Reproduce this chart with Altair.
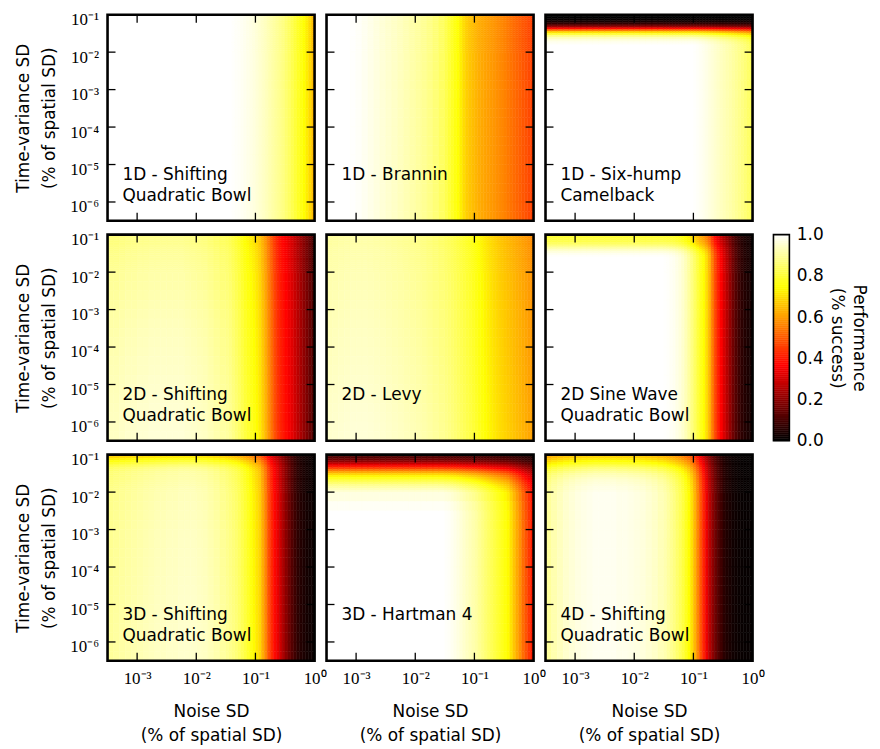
import altair as alt
import pandas as pd

alt.data_transformers.disable_max_rows()

# ---------------- values ----------------
PANEL_LABELS = [
    ["1D - Shifting", "Quadratic Bowl"],
    ["1D - Brannin"],
    ["1D - Six-hump", "Camelback"],
    ["2D - Shifting", "Quadratic Bowl"],
    ["2D - Levy"],
    ["2D Sine Wave", "Quadratic Bowl"],
    ["3D - Shifting", "Quadratic Bowl"],
    ["3D - Hartman 4"],
    ["4D - Shifting", "Quadratic Bowl"],
]

X_TICKS = [1e-3, 1e-2, 1e-1, 1.0]
Y_TICKS = [1e-6, 1e-5, 1e-4, 1e-3, 1e-2, 1e-1]
X_INNER_TICKS = [1e-3, 1e-2, 1e-1]
Y_INNER_TICKS = [1e-6, 1e-5, 1e-4, 1e-3, 1e-2]
CB_TICKS = [0.0, 0.2, 0.4, 0.6, 0.8, 1.0]

# grid of cells (log10 of noise SD / time-variance SD)
X_EDGES_LOG = [round(-3.5 + 0.1 * i, 3) for i in range(20)] + \
              [round(-1.5 + 0.05 * i, 3) for i in range(31)]
Y_EDGES_LOG = [round(-1.0 - 0.05 * i, 3) for i in range(21)] + \
              [round(-2.0 - 0.25 * i, 3) for i in range(1, 19)]

# performance along the noise axis:
#   LEFT  = 20 columns, centres -3.45 ... -1.55 (0.1 decade)
#   RIGHT = 30 columns, centres -1.475 ... -0.025 (0.05 decade)
NOISE_LEFT = [
    [1.0] * 20,
    [1, 1, 1, 1, 0.998, 0.993, 0.985, 0.977, 0.968, 0.96, 0.952, 0.944, 0.935, 0.925, 0.915,
     0.905, 0.893, 0.88, 0.865, 0.845],
    [1.0] * 20,
    [0.94, 0.94, 0.945, 0.95, 0.95, 0.955, 0.955, 0.96, 0.96, 0.96, 0.96, 0.96, 0.96, 0.955, 0.95,
     0.945, 0.94, 0.93, 0.92, 0.91],
    [0.95, 0.952, 0.955, 0.957, 0.96, 0.96, 0.96, 0.958, 0.955, 0.952, 0.948, 0.944, 0.94, 0.935,
     0.93, 0.925, 0.918, 0.91, 0.902, 0.893],
    [1.0] * 20,
    [0.90, 0.905, 0.91, 0.915, 0.92, 0.925, 0.93, 0.935, 0.94, 0.94, 0.945, 0.945, 0.95, 0.95, 0.95,
     0.945, 0.94, 0.93, 0.92, 0.905],
    [1.0] * 20,
    [0.90, 0.92, 0.935, 0.95, 0.96, 0.97, 0.975, 0.98, 0.985, 0.985, 0.985, 0.985, 0.98, 0.98, 0.975,
     0.97, 0.965, 0.955, 0.945, 0.93],
]
NOISE_RIGHT = [
    [1, 1, 0.997, 0.994, 0.992, 0.988, 0.983, 0.978, 0.973, 0.967, 0.96, 0.952, 0.944, 0.935, 0.925,
     0.915, 0.905, 0.895, 0.885, 0.875, 0.86, 0.845, 0.825, 0.805, 0.785, 0.765, 0.745, 0.72, 0.69, 0.65],
    [0.825, 0.805, 0.785, 0.765, 0.75, 0.72, 0.695, 0.675, 0.66, 0.65, 0.638, 0.627, 0.618, 0.611,
     0.604, 0.597, 0.59, 0.582, 0.574, 0.566, 0.557, 0.547, 0.537, 0.527, 0.517, 0.507, 0.497, 0.487,
     0.475, 0.46],
    [1.0] * 10 + [0.997, 0.993, 0.988, 0.982, 0.975, 0.967, 0.96, 0.952, 0.945, 0.937, 0.93, 0.922,
                  0.914, 0.905, 0.895, 0.885, 0.875, 0.865, 0.852, 0.835],
    [0.905, 0.895, 0.88, 0.865, 0.85, 0.83, 0.81, 0.795, 0.78, 0.765, 0.745, 0.72, 0.68, 0.64, 0.59,
     0.54, 0.49, 0.45, 0.42, 0.40, 0.38, 0.355, 0.33, 0.30, 0.27, 0.24, 0.21, 0.18, 0.15, 0.12],
    [0.885, 0.878, 0.87, 0.862, 0.853, 0.844, 0.835, 0.826, 0.816, 0.805, 0.792, 0.778, 0.765, 0.752,
     0.74, 0.728, 0.718, 0.708, 0.698, 0.69, 0.682, 0.674, 0.666, 0.658, 0.65, 0.642, 0.634, 0.626,
     0.616, 0.605],
    [0.998, 0.995, 0.99, 0.985, 0.975, 0.965, 0.95, 0.93, 0.905, 0.875, 0.845, 0.81, 0.775, 0.745,
     0.70, 0.64, 0.55, 0.47, 0.41, 0.36, 0.31, 0.26, 0.21, 0.16, 0.12, 0.09, 0.065, 0.05, 0.04, 0.035],
    [0.895, 0.885, 0.875, 0.865, 0.85, 0.83, 0.81, 0.79, 0.765, 0.74, 0.715, 0.69, 0.63, 0.57, 0.49,
     0.43, 0.38, 0.34, 0.29, 0.245, 0.20, 0.16, 0.12, 0.09, 0.065, 0.05, 0.04, 0.03, 0.025, 0.02],
    [0.995, 0.992, 0.985, 0.978, 0.97, 0.96, 0.95, 0.94, 0.93, 0.92, 0.91, 0.895, 0.88, 0.865, 0.85,
     0.835, 0.82, 0.805, 0.79, 0.775, 0.76, 0.74, 0.70, 0.66, 0.62, 0.58, 0.53, 0.49, 0.45, 0.41],
    [0.92, 0.905, 0.89, 0.875, 0.855, 0.835, 0.81, 0.78, 0.745, 0.70, 0.64, 0.57, 0.49, 0.42, 0.34,
     0.27, 0.21, 0.16, 0.12, 0.09, 0.06, 0.045, 0.035, 0.025, 0.02, 0.015, 0.012, 0.01, 0.01, 0.01],
]

# performance factor along the time-variance axis (38 rows, top to bottom)
DRIFT_PROFILES = [
    [1.0] * 38,
    [1.0] * 38,
    [0.0, 0.0, 0.01, 0.03, 0.06, 0.12, 0.22, 0.38, 0.55, 0.70, 0.80, 0.88, 0.93, 0.96, 0.98, 0.99,
     1, 1, 1, 1] + [1.0] * 18,
    [0.92, 0.922, 0.924, 0.926, 0.928, 0.93, 0.932, 0.934, 0.936, 0.938, 0.94, 0.941, 0.942, 0.943,
     0.944, 0.945, 0.946, 0.947, 0.948, 0.95,
     0.953, 0.956, 0.96, 0.964, 0.968, 0.972, 0.975, 0.978, 0.98, 0.983, 0.985, 0.988, 0.99, 0.992,
     0.994, 0.996, 0.998, 1.0],
    [0.95, 0.951, 0.952, 0.953, 0.954, 0.955, 0.956, 0.957, 0.958, 0.959, 0.96, 0.96, 0.961, 0.961,
     0.962, 0.962, 0.963, 0.963, 0.964, 0.965,
     0.967, 0.969, 0.971, 0.973, 0.975, 0.977, 0.979, 0.981, 0.983, 0.985, 0.987, 0.989, 0.991,
     0.993, 0.995, 0.997, 0.999, 1.0],
    [0.80, 0.80, 0.81, 0.82, 0.84, 0.86, 0.89, 0.92, 0.95, 0.97, 0.985, 0.995, 1, 1, 1, 1, 1, 1, 1, 1]
    + [1.0] * 18,
    [0.72, 0.76, 0.80, 0.84, 0.87, 0.90, 0.92, 0.94, 0.95, 0.96, 0.962, 0.964, 0.966, 0.968, 0.97,
     0.972, 0.974, 0.976, 0.978, 0.98,
     0.982, 0.984, 0.986, 0.988, 0.99, 0.991, 0.992, 0.993, 0.994, 0.995, 0.996, 0.997, 0.998,
     0.999, 1, 1, 1, 1],
    [0.10, 0.12, 0.15, 0.20, 0.26, 0.33, 0.40, 0.47, 0.55, 0.62, 0.68, 0.73, 0.77, 0.80, 0.83, 0.86,
     0.89, 0.91, 0.93, 0.95, 0.97, 0.99] + [1.0] * 16,
    [0.68, 0.70, 0.73, 0.76, 0.79, 0.82, 0.85, 0.88, 0.90, 0.92, 0.94, 0.95, 0.96, 0.97, 0.975, 0.98,
     0.985, 0.99, 0.99, 0.995] + [1.0] * 18,
]

CB_LEVELS = [round(0.01 * i, 2) for i in range(100)]

# ---------------- styling ----------------
W, H = 208, 207
TICK = 8
CB_W, CB_OFF = 25, 9
SANS = "DejaVu Sans"
SERIF = "Liberation Serif"
FS = 17

SUP = {"0": "\u2070", "1": "\u00b9", "2": "\u00b2", "3": "\u00b3", "4": "\u2074",
       "5": "\u2075", "6": "\u2076", "-": "\u207b"}


def sup_label(p):
    return "10" + "".join(SUP[c] for c in str(p))


def label_expr(powers):
    e = "''"
    for p in powers:
        e = f"round(log(datum.value)/LN10) == {p} ? '{sup_label(p)}' : ({e})"
    return e


cscale = alt.Scale(domain=[0, 0.365, 0.746, 1.0],
                   range=["#000000", "#ff0000", "#ffff00", "#ffffff"],
                   interpolate="rgb", clamp=True)
xs = alt.Scale(type="log", domain=[10 ** -3.5, 1.0], nice=False)
ys = alt.Scale(type="log", domain=[10 ** -6.5, 0.1], nice=False)


def panel_data(k):
    noise = NOISE_LEFT[k] + NOISE_RIGHT[k]
    rows = []
    for i, xv in enumerate(noise):
        for j, yv in enumerate(DRIFT_PROFILES[k]):
            rows.append(dict(x=10 ** X_EDGES_LOG[i], x2=10 ** X_EDGES_LOG[i + 1],
                             y=10 ** Y_EDGES_LOG[j], y2=10 ** Y_EDGES_LOG[j + 1],
                             v=round(xv * yv, 4)))
    return pd.DataFrame(rows)


def x_axis(show):
    if not show:
        return None
    return alt.Axis(values=X_TICKS, labelExpr=label_expr([-3, -2, -1, 0]),
                    ticks=False, domain=False, grid=False,
                    labelFont=SERIF, labelFontSize=17, labelColor="black",
                    labelPadding=10, labelFlush=False, labelOverlap=False,
                    title=["Noise SD", "(% of spatial SD)"], titleFont=SANS,
                    titleFontSize=FS, titleFontWeight="normal", titleColor="black",
                    titlePadding=17, titleLineHeight=24)


def y_axis(show):
    if not show:
        return None
    return alt.Axis(values=Y_TICKS, labelExpr=label_expr([-6, -5, -4, -3, -2, -1]),
                    ticks=False, domain=False, grid=False,
                    labelFont=SERIF, labelFontSize=17, labelColor="black",
                    labelPadding=9, labelOffset=5, labelFlush=False, labelOverlap=False,
                    title=["Time-variance SD", "(% of spatial SD)"], titleFont=SANS,
                    titleFontSize=FS, titleFontWeight="normal", titleColor="black",
                    titlePadding=11, titleLineHeight=26)


def panel(k, show_x, show_y):
    heat = alt.Chart(panel_data(k)).mark_rect(strokeWidth=0.5).encode(
        x=alt.X("x:Q", scale=xs, axis=x_axis(show_x)),
        x2="x2:Q",
        y=alt.Y("y:Q", scale=ys, axis=y_axis(show_y)),
        y2="y2:Q",
        color=alt.Color("v:Q", scale=cscale, legend=None),
        stroke=alt.Stroke("v:Q", scale=cscale, legend=None),
    )
    xt = alt.Chart(pd.DataFrame({"t": X_INNER_TICKS})).mark_rule(color="black", strokeWidth=1.3)
    yt = alt.Chart(pd.DataFrame({"t": Y_INNER_TICKS})).mark_rule(color="black", strokeWidth=1.3)
    ticks = [
        xt.encode(x=alt.X("t:Q", scale=xs, axis=x_axis(show_x)), y=alt.value(H), y2=alt.value(H - TICK)),
        xt.encode(x=alt.X("t:Q", scale=xs, axis=x_axis(show_x)), y=alt.value(0), y2=alt.value(TICK)),
        yt.encode(y=alt.Y("t:Q", scale=ys, axis=y_axis(show_y)), x=alt.value(0), x2=alt.value(TICK)),
        yt.encode(y=alt.Y("t:Q", scale=ys, axis=y_axis(show_y)), x=alt.value(W - TICK), x2=alt.value(W)),
    ]
    frame = alt.Chart(pd.DataFrame({"a": [0]})).mark_rect(
        filled=False, stroke="black", strokeWidth=2.6).encode(
        x=alt.value(0), x2=alt.value(W), y=alt.value(0), y2=alt.value(H))
    label = alt.Chart(pd.DataFrame({"a": [0]})).mark_text(
        text=PANEL_LABELS[k], align="left", baseline="alphabetic", x=15, y=166,
        lineHeight=21, font=SANS, fontSize=FS, color="black")
    return alt.layer(heat, *ticks, frame, label).properties(width=W, height=H)


cb_df = pd.DataFrame({"lo": CB_LEVELS, "hi": [round(v + 0.01, 2) for v in CB_LEVELS],
                      "mid": [round(v + 0.005, 3) for v in CB_LEVELS]})
cb_scale = alt.Scale(domain=[0, 1], nice=False)
colorbar_rects = alt.Chart(cb_df).mark_rect(strokeWidth=0.5).encode(
    x=alt.value(CB_OFF), x2=alt.value(CB_W),
    y=alt.Y("lo:Q", scale=cb_scale,
            axis=alt.Axis(orient="right", values=CB_TICKS, format=".1f", ticks=False,
                          domain=False, grid=False, labelFont=SANS, labelFontSize=FS,
                          labelColor="black", labelPadding=7, labelFlush=False,
                          labelOverlap=False,
                          title=["Performance", "(% success)"], titleAngle=90,
                          titleFont=SANS, titleFontSize=FS, titleFontWeight="normal",
                          titleColor="black", titlePadding=4, titleLineHeight=22)),
    y2="hi:Q",
    color=alt.Color("mid:Q", scale=cscale, legend=None),
    stroke=alt.Stroke("mid:Q", scale=cscale, legend=None),
)
colorbar_frame = alt.Chart(pd.DataFrame({"a": [0]})).mark_rect(
    filled=False, stroke="black", strokeWidth=1.6).encode(
    x=alt.value(CB_OFF), x2=alt.value(CB_W), y=alt.value(0), y2=alt.value(H))
colorbar = alt.layer(colorbar_rects, colorbar_frame).properties(width=CB_W, height=H)

blank = alt.Chart(pd.DataFrame({"a": [0]})).mark_rect(opacity=0).encode(
    x=alt.value(0), x2=alt.value(1), y=alt.value(0), y2=alt.value(1)
).properties(width=CB_W, height=H)

cells = [panel(0, False, True), panel(1, False, False), panel(2, False, False), blank,
         panel(3, False, True), panel(4, False, False), panel(5, False, False), colorbar,
         panel(6, True, True), panel(7, True, False), panel(8, True, False)]

chart = alt.concat(*cells, columns=4, spacing={"row": 14, "column": 12}, bounds="flush").properties(
    padding={"left": 6, "top": 0, "right": 4, "bottom": 0}
).configure_view(stroke="transparent")

chart.save("out.html", embed_options={"renderer": "svg", "actions": False})
